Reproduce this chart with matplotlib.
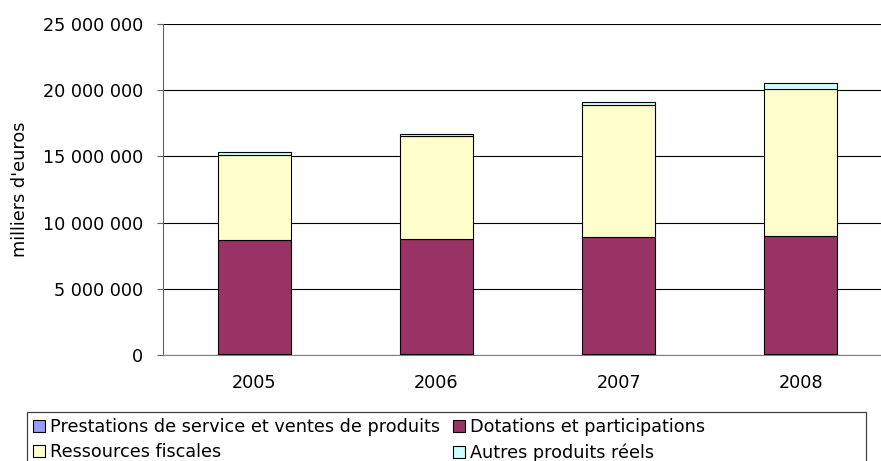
import matplotlib
matplotlib.use("Agg")
import matplotlib.pyplot as plt
from matplotlib.patches import Patch, Rectangle
from matplotlib.ticker import FuncFormatter

plt.rcParams['font.family'] = ['DejaVu Sans']
FS = 12.7

years = ['2005', '2006', '2007', '2008']
prestations = [60000, 60000, 60000, 60000]
dotations = [8600000, 8700000, 8850000, 8900000]
ressources = [6450000, 7750000, 10000000, 11150000]
autres = [200000, 200000, 200000, 400000]

series_names = ['Prestations de service et ventes de produits', 'Dotations et participations',
                'Ressources fiscales', 'Autres produits réels']
colors = ['#9999FF', '#993366', '#FFFFCC', '#CCFFFF']

fig = plt.figure(figsize=(8.81, 4.61), dpi=100)
ax = fig.add_axes([163 / 881, 1 - 355 / 461, 729 / 881, 331 / 461])

x = range(len(years))
bottom = [0] * len(years)
for vals, col in zip([prestations, dotations, ressources, autres], colors):
    ax.bar(x, vals, width=0.4, bottom=bottom, color=col, edgecolor='black', linewidth=0.8, zorder=3)
    bottom = [b + v for b, v in zip(bottom, vals)]

ax.set_xlim(-0.5, 3.5)
ax.set_ylim(0, 25000000)
ax.set_yticks(range(0, 25000001, 5000000))
ax.yaxis.set_major_formatter(FuncFormatter(lambda v, p: f"{int(v):,}".replace(',', ' ')))
ax.set_xticks(list(x))
ax.set_xticklabels(years)
ax.grid(axis='y', color='black', linewidth=0.8, zorder=0)
for s in ['top', 'right']:
    ax.spines[s].set_visible(False)
ax.spines['left'].set_color('#606060')
ax.spines['bottom'].set_color('#808080')
ax.tick_params(axis='x', length=0, labelsize=FS, pad=14)
ax.tick_params(axis='y', length=4.5, color='#606060', labelsize=FS, pad=10)
ax.set_ylabel("milliers d'euros", fontsize=FS, labelpad=10)

# legend frame + entries
fig.patches.append(Rectangle((27 / 881, -0.05), 839 / 881, 1 - 412 / 461 + 0.05,
                             transform=fig.transFigure, facecolor='white',
                             edgecolor='#404040', linewidth=0.9, figure=fig))
handles = [Patch(facecolor=colors[i], edgecolor='black', linewidth=0.8) for i in [0, 2, 1, 3]]
labels = [series_names[i] for i in [0, 2, 1, 3]]
fig.legend(handles, labels, loc='upper left', bbox_to_anchor=(33 / 881, 1 - 418 / 461),
           ncol=2, frameon=False, fontsize=FS, handlelength=0.68, handleheight=0.68,
           handletextpad=0.28, columnspacing=0.75, labelspacing=0.42,
           borderpad=0, borderaxespad=0)

fig.savefig('out.png', dpi=100)
